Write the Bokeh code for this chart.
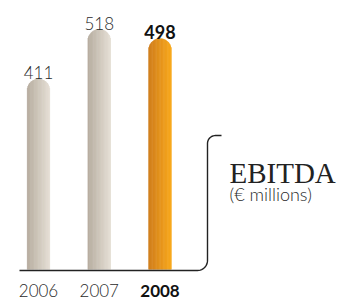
import numpy as np
from bokeh.plotting import figure
from bokeh.models import Range1d, ColumnDataSource
from bokeh.core.properties import value
from bokeh.embed import file_html
from bokeh.resources import INLINE

# ---- data ----
years = ["2006", "2007", "2008"]
ebitda = [411, 518, 498]
highlight = [False, False, True]
title_text = "EBITDA"
unit_text = "(\u20ac millions)"

# ---- layout helpers (page px -> data units) ----
W, H = 343, 300
XS = 60.75          # px per category step
PY = 0.464          # px per EUR million
BASE_PY = 269       # page y of zero
x_start = -38.0 / XS
x_end = x_start + W / XS
y_start, y_end = -(H - BASE_PY) / PY, BASE_PY / PY

def X(px):
    return x_start + px / XS

def Y(py):
    return (BASE_PY - py) / PY

p = figure(width=W, height=H, output_backend="svg", toolbar_location=None,
           x_range=Range1d(x_start, x_end), y_range=Range1d(y_start, y_end),
           min_border=0)
p.axis.visible = False
p.grid.visible = False
p.outline_line_color = None
p.background_fill_color = "white"

# ---- gradient bars with rounded tops, drawn as thin strips ----
bar_w_px = 23.0
n = 40
def mix(c1, c2, t):
    c = [int(round(c1[j] + (c2[j] - c1[j]) * t)) for j in range(3)]
    return "#%02x%02x%02x" % tuple(c)

gray_l, gray_r = (174, 163, 148), (226, 219, 208)
orng_l, orng_r = (202, 110, 0), (247, 158, 0)

xs, tops, cols = [], [], []
r = bar_w_px / 2
for i, (v, hl) in enumerate(zip(ebitda, highlight)):
    cl, cr = (orng_l, orng_r) if hl else (gray_l, gray_r)
    for k in range(n):
        dx = -r + (k + 0.5) * bar_w_px / n
        xs.append(i + dx / XS)
        tops.append(v + (np.sqrt(max(r * r - dx * dx, 0)) - r) / PY)
        cols.append(mix(cl, cr, k / (n - 1)))
src = ColumnDataSource(dict(x=xs, top=tops, color=cols))
p.vbar(x="x", top="top", bottom=0, width=(bar_w_px / n) * 1.35 / XS,
       fill_color="color", line_color=None, source=src)

# ---- value labels ----
idx = list(range(len(years)))
norm = [i for i in idx if not highlight[i]]
bold = [i for i in idx if highlight[i]]
off = 6 / PY
p.text(x=norm, y=[ebitda[i] + off for i in norm], text=[str(ebitda[i]) for i in norm],
       text_align="center", text_baseline="alphabetic", text_font=value("Lato Light"),
       text_font_size="17px", text_color="#2a2a2a")
p.text(x=bold, y=[ebitda[i] + off for i in bold], text=[str(ebitda[i]) for i in bold],
       text_align="center", text_baseline="alphabetic", text_font=value("Lato"),
       text_font_style="bold", text_font_size="18px", text_color="#111111")

# ---- year labels ----
yl = Y(290)
p.text(x=norm, y=[yl] * len(norm), text=[years[i] for i in norm],
       text_align="center", text_baseline="alphabetic", text_font=value("Lato Light"),
       text_font_size="17px", text_color="#2a2a2a")
p.text(x=bold, y=[yl] * len(bold), text=[years[i] for i in bold],
       text_align="center", text_baseline="alphabetic", text_font=value("Lato"),
       text_font_style="bold", text_font_size="17px", text_color="#111111")

# ---- bracket line ----
pts = [(19, 270), (197, 270)]
for t in np.linspace(-np.pi / 2, 0, 12):
    pts.append((197 + 10 * np.cos(t), 260 - 10 * np.sin(t)))
pts.append((207, 143))
for t in np.linspace(np.pi, np.pi / 2, 12):
    pts.append((215 + 8 * np.cos(t), 143 - 8 * np.sin(t)))
pts.append((221, 135))
p.line([X(px) for px, _ in pts], [Y(py) for _, py in pts], line_color="#222222",
       line_width=1.4)

# ---- title texts ----
p.text(x=[X(229)], y=[Y(172)], text=[title_text], text_align="left",
       text_baseline="alphabetic", text_font=value("Liberation Serif"),
       text_font_size="29px", text_color="#222222")
p.text(x=[X(229)], y=[Y(193)], text=[unit_text], text_align="left",
       text_baseline="alphabetic", text_font=value("Lato Light"),
       text_font_size="18px", text_color="#2a2a2a")

open("out.html", "w").write(file_html(p, INLINE))
